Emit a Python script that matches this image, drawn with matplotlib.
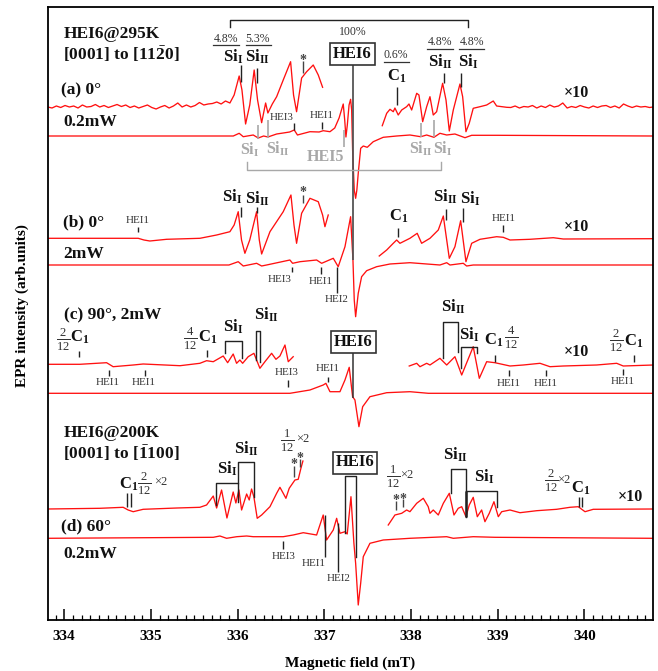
import matplotlib
matplotlib.use('Agg')
import matplotlib.pyplot as plt
from matplotlib.ticker import MultipleLocator

plt.rcParams['font.family'] = ['Liberation Serif', 'DejaVu Serif']
plt.rcParams['mathtext.fontset'] = 'custom'
plt.rcParams['mathtext.rm'] = 'Liberation Serif'
plt.rcParams['mathtext.bf'] = 'Liberation Serif:bold'
plt.rcParams['mathtext.it'] = 'Liberation Serif:italic'

# field in mT, intensity in arb. units (offset, drawn downward = larger value)
# (a) 0deg, 295K, x10 trace, low-field part
a10_lo_B = [333.81, 333.86, 333.91, 333.96, 334.01, 334.06, 334.11, 334.16, 334.21, 334.26,
            334.31, 334.36, 334.41, 334.46, 334.51, 334.56, 334.61, 334.66, 334.71, 334.76,
            334.81, 334.86, 334.91, 334.96, 335.01, 335.06, 335.11, 335.16, 335.21, 335.26,
            335.31, 335.36, 335.41, 335.46, 335.51, 335.56, 335.61, 335.66, 335.71, 335.76,
            335.81, 335.86, 335.911, 335.96, 336.018, 336.05, 336.092, 336.14, 336.191, 336.23,
            336.277, 336.323, 336.349, 336.40, 336.45, 336.526, 336.611, 336.645, 336.680, 336.738,
            336.796, 336.872, 336.930, 336.980]
a10_lo_I = [107, 108, 106, 107.5, 105.5, 107, 106, 108, 105, 107,
            106.5, 104.5, 107, 105.5, 107.5, 106, 104.5, 106.5, 105, 107.5,
            106, 108, 106.5, 105, 107.5, 109, 107, 105.5, 108, 106,
            103, 107, 105, 107, 105.5, 102.5, 105, 104, 103.5, 102,
            104, 101, 103, 95, 76, 90, 124, 105, 70, 100,
            122.7, 103, 113, 104, 96.7, 80, 61.7, 95, 111.7, 78,
            71.7, 65, 75, 87.3]
# (a) x10 trace, high-field part
a10_hi_B = [337.668, 337.719, 337.757, 337.795, 337.814, 337.852, 337.892, 337.949, 337.976, 338.007,
            338.065, 338.091, 338.134, 338.180, 338.218, 338.256, 338.295, 338.364, 338.403, 338.441,
            338.487, 338.564, 338.595, 338.633, 338.671, 338.717, 338.795, 338.872, 338.948, 338.987,
            339.103, 339.15, 339.20, 339.25, 339.30, 339.35, 339.40, 339.45, 339.50, 339.55,
            339.60, 339.65, 339.70, 339.75, 339.80, 339.85, 339.90, 339.95, 340.00, 340.05,
            340.10, 340.15, 340.20, 340.25, 340.30, 340.35, 340.40, 340.45, 340.50, 340.55,
            340.60, 340.65, 340.70, 340.75, 340.79]
a10_hi_I = [125.7, 113.3, 109.3, 111.7, 108, 115, 110, 106.7, 104, 110,
            93.3, 95, 121.7, 106.7, 96.7, 115, 111.7, 83.3, 100, 131,
            110, 84, 96.7, 131.7, 123.3, 108.3, 106.7, 105, 101, 106,
            107.3, 107.5, 106, 108, 106.5, 107, 105.5, 108, 106, 107.5,
            105, 107, 106, 103, 108, 106.5, 107.5, 105.5, 107, 108,
            106, 107.5, 106, 105.5, 107.5, 106, 108, 104, 106, 107.5,
            106, 107, 106.5, 107.5, 107]
# (a) full-scale trace
a_B = [333.81, 335.95, 336.018, 336.065, 336.18, 336.238, 336.30, 336.349, 336.45, 336.526,
       336.60, 336.653, 336.69, 336.834, 336.94, 336.987, 337.065, 337.12, 337.17, 337.218,
       337.235, 337.249, 337.265, 337.285, 337.303, 337.315, 337.326, 337.345, 337.361, 337.375,
       337.391, 337.419, 337.449, 337.495, 337.564, 337.679, 337.834, 337.987, 338.111, 338.180,
       338.264, 338.333, 338.411, 338.506, 338.622, 338.699, 338.987, 340.79]
a_I = [136, 136, 133.3, 136.7, 135, 138, 136, 137, 134, 133,
       132, 130, 135, 131.7, 132, 130.7, 131.7, 128, 118, 104,
       120, 137, 125, 105, 99.3, 110, 150, 190, 198.3, 190,
       173.3, 148.3, 146, 147.3, 141.7, 137.3, 136, 135, 136.7, 135,
       137.3, 133.3, 135, 134, 137.7, 135.3, 135.3, 136]

# (b) 0deg, 2mW
b10_lo_B = [333.81, 334.80, 334.854, 334.92, 334.988, 335.181, 335.565, 335.70, 335.758, 335.911,
            335.96, 336.007, 336.045, 336.084, 336.14, 336.219, 336.25, 336.277, 336.373, 336.526,
            336.615, 336.65, 336.680, 336.738, 336.834, 336.930, 336.98, 337.007, 337.045]
b10_lo_I = [238.3, 238.3, 238.3, 240, 241, 239.3, 238.3, 236, 235, 231.7,
            225, 211.7, 240, 253.3, 240, 211.7, 240, 254, 231.7, 211.7,
            195, 225, 243.3, 213.3, 198.3, 201.7, 215, 226.7, 215]
b10_hi_B = [337.633, 337.719, 337.795, 337.834, 337.872, 337.987, 338.071, 338.122, 338.218, 338.314,
            338.372, 338.441, 338.506, 338.572, 338.633, 338.699, 338.795, 338.987, 339.063, 339.141,
            339.371, 339.640, 339.755, 340.79]
b10_hi_I = [256, 250, 243.3, 240, 243.3, 238.3, 233.3, 243.3, 238.3, 230,
            216, 258.3, 246.7, 220.7, 261.7, 243.3, 239.3, 236.7, 237.3, 240,
            239.3, 237.7, 239, 238.7]
b_B = [333.81, 335.90, 336.007, 336.065, 336.219, 336.277, 336.334, 336.603, 336.634, 336.719,
       336.911, 336.969, 337.103, 337.160, 337.238, 337.303, 337.33, 337.345, 337.361, 337.391,
       337.430, 337.488, 337.603, 337.757, 337.987, 338.333, 338.411, 338.449, 338.602, 338.641,
       338.717, 340.79]
b_I = [265, 265, 261.7, 266, 263.3, 266, 265, 260, 263.3, 261.7,
       260, 263.3, 258.3, 266.7, 246.7, 216.7, 260, 300, 316.7, 293.3,
       276.7, 270.7, 266.7, 264, 262.7, 265, 262.7, 265, 263.3, 266,
       265, 265]

# (c) 90deg, 2mW
c10_lo_B = [333.81, 334.181, 334.489, 334.565, 334.796, 334.911, 335.336, 335.565, 335.642, 335.719,
            335.834, 335.885, 335.949, 335.988, 336.026, 336.058, 336.122, 336.188, 336.257, 336.315,
            336.392, 336.442, 336.488, 336.546, 336.584, 336.641]
c10_lo_I = [364.3, 364.3, 362.7, 366.7, 365, 364, 365.7, 363.3, 360.7, 361.7,
            356, 362.7, 354, 363.3, 360, 363.3, 356.7, 353.3, 368.3, 361.7,
            353.3, 359.3, 356, 345, 361.7, 356.7]
c10_hi_B = [337.979, 338.065, 338.103, 338.180, 338.218, 338.333, 338.411, 338.506, 338.584, 338.717,
            338.787, 338.872, 338.967, 339.141, 339.294, 339.487, 339.602, 339.755, 340.140, 340.371,
            340.447, 340.794]
c10_hi_I = [366, 363.3, 366.7, 363.3, 365, 358.3, 365, 356.7, 375, 346.7,
            378.3, 361.7, 362.7, 366, 365, 363.3, 366.7, 366, 365, 363.3,
            366, 365]
c_B = [333.81, 336.603, 336.834, 336.987, 337.018, 337.065, 337.180, 337.238, 337.287, 337.326,
       337.353, 337.399, 337.442, 337.526, 337.719, 337.987, 338.2, 340.79]
c_I = [393.3, 393.3, 390, 385, 383.3, 391.7, 391.7, 380, 367.3, 396.7,
       400, 426.7, 406.7, 396.7, 392.7, 391.7, 393.3, 393.3]

# (d) 60deg, 200K, 0.2mW
d10_lo_B = [333.81, 334.412, 334.680, 334.738, 334.796, 334.911, 335.3, 335.565, 335.642, 335.719,
            335.758, 335.815, 335.877, 335.949, 335.980, 336.015, 336.046, 336.104, 336.134, 336.161,
            336.188, 336.226, 336.277, 336.373, 336.450, 336.488, 336.526, 336.557, 336.595, 336.661,
            336.699, 336.730, 336.753]
d10_lo_I = [509, 508.3, 507.3, 510, 511.7, 509.3, 508, 507.3, 505, 496,
            508, 490, 518, 492, 503, 490, 510, 494, 500, 489,
            497, 518.3, 515, 506.7, 493.3, 487.3, 493.3, 498.3, 488.3, 480,
            479.3, 468.3, 461]
d10_hi_B = [337.737, 337.814, 337.892, 337.949, 337.987, 338.065, 338.141, 338.198, 338.218, 338.256,
            338.314, 338.372, 338.441, 338.495, 338.544, 338.584, 338.633, 338.671, 338.717, 338.764,
            338.814, 338.852, 338.902, 338.956, 339.006, 339.045, 339.141, 339.256, 339.449, 339.679,
            339.833, 339.928, 340.006, 340.101, 340.794]
d10_hi_I = [525, 515, 513.3, 510, 511.7, 503.3, 498.3, 506.7, 513.3, 510,
            515, 503.3, 493.3, 515, 508.3, 506.7, 516.7, 505, 497.3, 516.7,
            510, 521.7, 513.3, 501.7, 516.7, 511.7, 510, 512.7, 510.7, 509.3,
            507.3, 506.7, 511.7, 509.3, 509]
d_B = [333.81, 335.719, 335.796, 335.873, 335.99, 336.104, 336.180, 336.526, 336.641, 336.757,
       336.911, 336.987, 337.026, 337.103, 337.142, 337.180, 337.238, 337.264, 337.307, 337.341,
       337.361, 337.391, 337.419, 337.449, 337.526, 337.679, 337.987, 338.411, 338.487, 338.717,
       338.967, 340.79]
d_I = [538.3, 537.3, 536, 538.3, 536.7, 536, 536.7, 536.7, 535, 532.7,
       535, 515, 540, 530, 518.3, 533.3, 531.7, 534, 496.7, 543.3,
       563.3, 605, 583.3, 556.7, 543.3, 540, 538.3, 536.7, 538.3, 536.7,
       537.3, 538.3]

ticks = [334, 335, 336, 337, 338, 339, 340]

traces = [(a10_lo_B, a10_lo_I), (a10_hi_B, a10_hi_I), (a_B, a_I),
          (b10_lo_B, b10_lo_I), (b10_hi_B, b10_hi_I), (b_B, b_I),
          (c10_lo_B, c10_lo_I), (c10_hi_B, c10_hi_I), (c_B, c_I),
          (d10_lo_B, d10_lo_I), (d10_hi_B, d10_hi_I), (d_B, d_I)]

fig = plt.figure(figsize=(6.58, 6.71), dpi=100)
ax = fig.add_axes([47.7 / 658, 51 / 671, 605.3 / 658, 613 / 671])

for B, I in traces:
    ax.plot(B, I, color='#ff1010', lw=0.95)

ax.set_xlim(333.81, 340.79)
ax.set_ylim(620, 7)

GRAY = '#a8a8a8'
DARK = '#222222'


def vl(x, y0, y1, c=DARK, lw=1.0):
    ax.plot([x, x], [y0, y1], color=c, lw=lw, solid_capstyle='butt')


def tx(x, y, s, size=12, bold=True, c='#111111', ha='center', **kw):
    ax.text(x, y, s, fontsize=size, fontweight='bold' if bold else 'normal',
            color=c, ha=ha, va='center', **kw)


def small(x, y, s):
    tx(x, y, s, size=8, bold=False, c='#333333')


def frac(x, y, s):
    tx(x, y, s, size=13, bold=False, c='#333333')


def star(x, y):
    tx(x, y, '*', size=10, c='#444444')


def pct(x, y, s, x0, x1, yl):
    tx(x, y, s, size=8.5, bold=False, c='#333333')
    ax.plot([x0, x1], [yl, yl], color='#333333', lw=0.9)


SI1 = r'Si$_{\mathbf{I}}$'
SI2 = r'Si$_{\mathbf{II}}$'
C1 = r'C$_{\mathbf{1}}$'
boxkw = dict(bbox=dict(boxstyle='square,pad=0.18', fc='white', ec='#333333', lw=1.2))

# ---------- (a)
tx(333.99, 33.5, 'HEI6@295K', size=12.5, ha='left')
tx(333.99, 54, r'[0001] to [11$\mathbf{\bar{2}}$0]', size=12.5, ha='left')
tx(333.96, 90.5, '(a) 0°', size=12.5, ha='left')
tx(333.99, 122, '0.2mW', size=12.5, ha='left')
ax.plot([335.911, 335.911, 338.653, 338.653], [27.3, 20, 20, 27.3], color=DARK, lw=1.0)
pct(335.865, 38.5, '4.8%', 335.715, 336.015, 45)
pct(336.230, 38.5, '5.3%', 336.096, 336.380, 45)
tx(335.949, 57, SI1)
tx(336.232, 57, SI2)
vl(336.041, 65, 82)
vl(336.226, 68, 83)
star(336.757, 60)
vl(336.757, 61, 73, c='#444444')
tx(337.333, 32.3, '100%', size=8.5, bold=False, c='#333333')
tx(337.326, 53.5, 'HEI6', **boxkw)
vl(337.326, 62.7, 260, c='#555555', lw=1.3)
pct(337.826, 55, '0.6%', 337.687, 337.976, 62.3)
tx(337.834, 76, C1)
vl(337.834, 87, 105)
pct(338.333, 41.7, '4.8%', 338.187, 338.487, 49)
pct(338.699, 41.7, '4.8%', 338.553, 338.841, 49)
tx(338.333, 62, SI2)
tx(338.660, 62, SI1)
vl(338.383, 73, 83)
vl(338.576, 73, 87)
tx(339.902, 92.7, '×10', size=11.5)
small(336.507, 117.3, 'HEI3')
vl(336.653, 123, 130)
small(336.969, 115.7, 'HEI1')
vl(336.969, 122, 129)
tx(336.142, 150, SI1, size=11.5, c=GRAY)
vl(336.238, 125, 139, c=GRAY, lw=1.2)
tx(336.468, 149, SI2, size=11.5, c=GRAY)
vl(336.353, 120, 138, c=GRAY, lw=1.2)
tx(337.018, 157, 'HEI5', size=11.5, c=GRAY)
vl(337.226, 130, 147, c=GRAY, lw=1.2)
tx(338.112, 149.3, SI2, size=11.5, c=GRAY)
vl(338.114, 123, 137, c=GRAY, lw=1.2)
tx(338.365, 149.3, SI1, size=11.5, c=GRAY)
vl(338.268, 120, 137, c=GRAY, lw=1.2)
ax.plot([336.111, 336.111, 338.341, 338.341], [162, 170, 170, 162], color=GRAY, lw=1.0)

# ---------- (b)
tx(333.99, 222.5, '(b) 0°', size=12.5, ha='left')
tx(333.99, 254, '2mW', size=12.5, ha='left')
small(334.847, 220.7, 'HEI1')
vl(334.847, 227, 232)
tx(335.938, 197, SI1)
vl(336.035, 206.7, 217)
tx(336.232, 198.3, SI2)
vl(336.226, 206.7, 213.3)
star(336.757, 193)
vl(336.757, 195, 203, c='#444444')
small(336.488, 279.3, 'HEI3')
vl(336.630, 266.7, 272)
small(336.961, 281.7, 'HEI1')
vl(336.961, 267, 274)
small(337.142, 300, 'HEI2')
vl(337.149, 266.7, 293.3)
tx(337.852, 216.7, C1)
vl(337.852, 228, 237)
tx(338.391, 196.7, SI2)
vl(338.403, 209, 220)
tx(338.68, 198.3, SI1)
vl(338.595, 208, 222)
small(339.063, 218.3, 'HEI1')
vl(339.063, 225, 232)
tx(339.91, 227.3, '×10', size=11.5)

# ---------- (c)
tx(334.0, 315, '(c) 90°, 2mW', size=12.5, ha='left')
frac(333.988, 339, r'$\frac{2}{12}$')
tx(334.175, 337, C1)
vl(334.173, 351, 357)
small(334.501, 382.3, 'HEI1')
vl(334.512, 370, 376)
small(334.922, 382.3, 'HEI1')
vl(334.927, 370, 376)
frac(335.452, 338, r'$\frac{4}{12}$')
tx(335.658, 337, C1)
vl(335.642, 350, 357.3)
tx(335.949, 326.7, SI1)
ax.plot([335.853, 335.853, 336.053, 336.053], [353.3, 341, 341, 358.3], color=DARK, lw=1.0)
tx(336.326, 315, SI2)
ax.plot([336.211, 336.211, 336.257, 336.257], [360, 330.7, 330.7, 361.7], color=DARK, lw=1.0)
small(336.565, 372.7, 'HEI3')
vl(336.584, 380, 387)
small(337.038, 368.3, 'HEI1')
vl(337.038, 377, 382)
tx(337.333, 341.5, 'HEI6', **boxkw)
vl(337.333, 350, 398.3, c='#333333', lw=1.1)
tx(338.487, 306.7, SI2)
ax.plot([338.364, 338.364, 338.544, 338.544], [358.3, 321.7, 321.7, 351.7], color=DARK, lw=1.0)
tx(338.671, 335, SI1)
ax.plot([338.572, 338.572, 338.757, 338.757], [368.3, 347.3, 347.3, 353.3], color=DARK, lw=1.0)
tx(338.956, 340, C1)
vl(338.964, 355, 362)
frac(339.160, 337.5, r'$\frac{4}{12}$')
small(339.129, 383.3, 'HEI1')
vl(339.129, 370, 376)
small(339.556, 383.3, 'HEI1')
vl(339.556, 370, 376)
small(340.441, 381.7, 'HEI1')
vl(340.441, 369, 375)
frac(340.371, 340, r'$\frac{2}{12}$')
tx(340.571, 341.7, C1)
vl(340.571, 355, 362)
tx(339.91, 351.7, '×10', size=11.5)

# ---------- (d)
tx(333.99, 433.3, 'HEI6@200K', size=12.5, ha='left')
tx(333.99, 453.3, r'[0001] to [$\mathbf{\bar{1}}$100]', size=12.5, ha='left')
tx(333.96, 526, '(d) 60°', size=12.5, ha='left')
tx(333.99, 554, '0.2mW', size=12.5, ha='left')
tx(334.740, 484, C1)
frac(334.925, 483.5, r'$\frac{2}{12}$')
tx(335.115, 482, '×2', size=9, bold=False, c='#333333')
vl(334.720, 493, 507)
vl(334.769, 493, 507)
tx(335.873, 468.3, SI1)
ax.plot([335.746, 335.746, 336.0, 336.0], [505, 482.7, 482.7, 501.7], color=DARK, lw=1.0)
tx(336.104, 448.3, SI2)
ax.plot([336.0, 336.0, 336.188, 336.188], [482.7, 461.7, 461.7, 496.7], color=DARK, lw=1.0)
frac(336.575, 440, r'$\frac{1}{12}$')
tx(336.745, 439, '×2', size=9, bold=False, c='#333333')
star(336.653, 465)
vl(336.653, 466, 476.7, c='#444444')
star(336.719, 458)
vl(336.719, 459, 466.7, c='#444444')
small(336.526, 556.7, 'HEI3')
vl(336.526, 541, 549)
small(336.872, 563.3, 'HEI1')
vl(337.011, 515, 556.7)
small(337.160, 578.3, 'HEI2')
vl(337.160, 523, 572)
tx(337.353, 462.5, 'HEI6', **boxkw)
ax.plot([337.240, 337.240, 337.361, 337.361], [533.3, 475.7, 475.7, 556.7], color=DARK, lw=1.0)
frac(337.797, 476, r'$\frac{1}{12}$')
tx(337.945, 475, '×2', size=9, bold=False, c='#333333')
star(337.822, 501)
vl(337.822, 501, 510, c='#444444')
star(337.905, 499.5)
vl(337.905, 499, 507, c='#444444')
tx(338.506, 455, SI2)
ax.plot([338.460, 338.460, 338.630, 338.630], [492.7, 469.3, 469.3, 516.7], color=DARK, lw=1.0)
vl(338.630, 490.7, 516.7, lw=1.8)
tx(338.844, 476.7, SI1)
ax.plot([338.630, 338.987, 338.987], [490.7, 490.7, 506.7], color=DARK, lw=1.0)
frac(339.615, 480, r'$\frac{2}{12}$')
tx(339.765, 480, '×2', size=9, bold=False, c='#333333')
tx(339.955, 488.3, C1)
vl(339.933, 497, 507)
vl(339.971, 497, 507)
tx(340.525, 497.3, '×10', size=11.5)

# ---------- axes
ax.set_yticks([])
ax.set_xticks(ticks)
ax.set_xticklabels([str(t) for t in ticks], fontsize=11, fontweight='bold')
ax.xaxis.set_minor_locator(MultipleLocator(0.1))
ax.tick_params(axis='x', which='major', direction='in', length=8, width=1.1, pad=7)
ax.tick_params(axis='x', which='minor', direction='in', length=3.8, width=0.9)
for s in ax.spines.values():
    s.set_linewidth(1.3)

fig.text(350.4 / 658, 1 - 663.3 / 671, 'Magnetic field (mT)', fontsize=11,
         fontweight='bold', ha='center', va='center')
fig.text(22.5 / 658, 1 - 306 / 671, 'EPR intensity (arb.units)', fontsize=11,
         fontweight='bold', ha='center', va='center', rotation=90)

fig.savefig('out.png', dpi=100)
